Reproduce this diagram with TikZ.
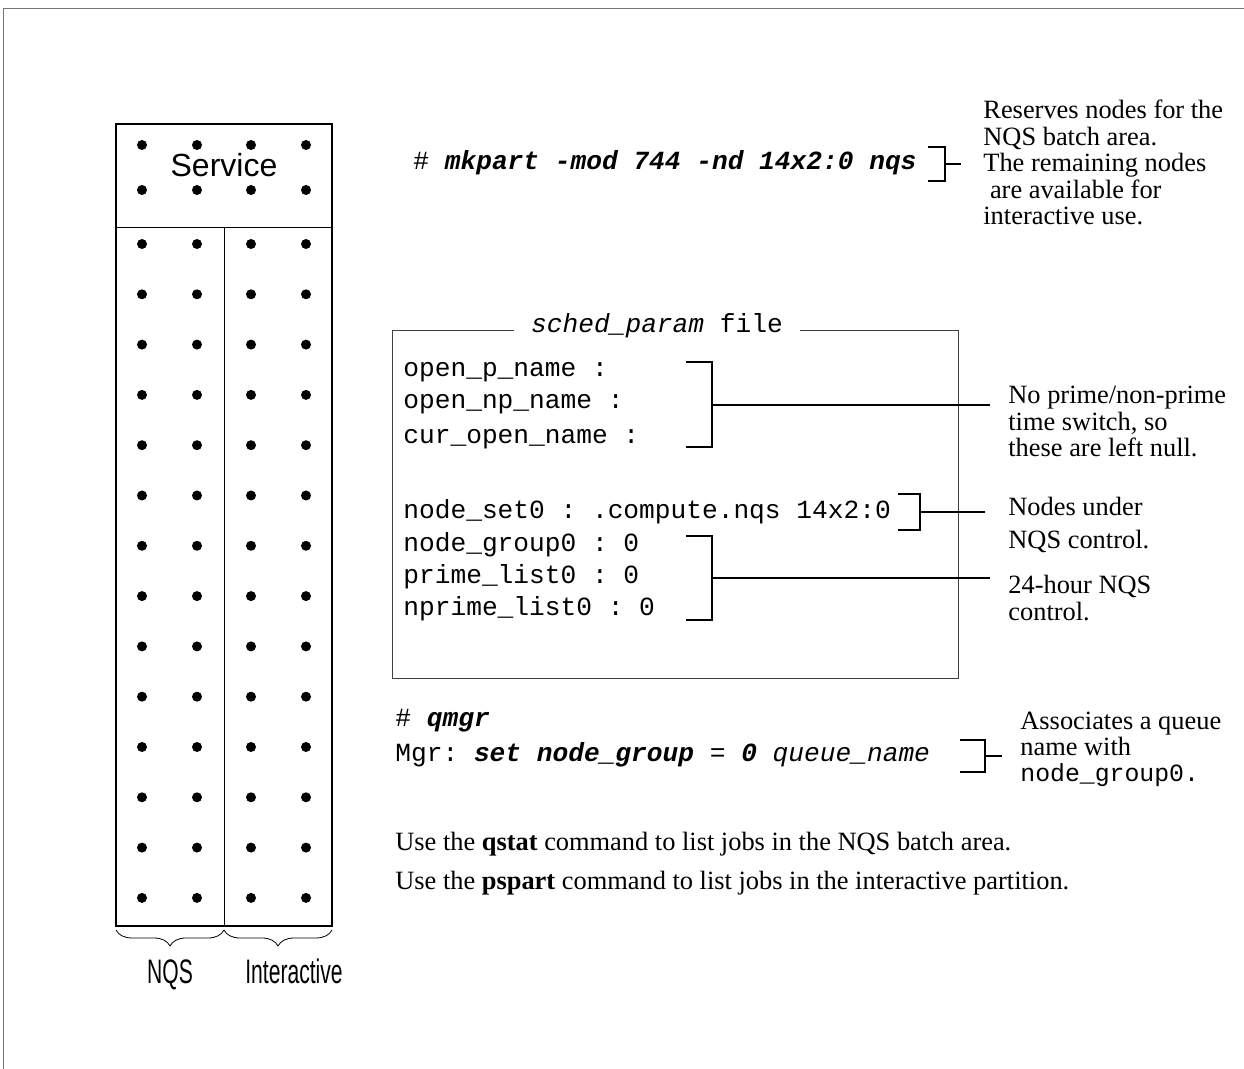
\documentclass[tikz,border=0pt]{standalone}
\usepackage{fontspec}
\setmainfont{Liberation Serif}
\setsansfont{Liberation Sans}
\setmonofont{Liberation Mono}
\usepackage{graphicx}
\usetikzlibrary{decorations.pathreplacing}
\newcommand\stk[1]{\vtop{\halign{##\hfil\cr#1\crcr}}}
\newcommand\tmfont{\fontsize{13.2}{13.25}\selectfont\rmfamily}
\newcommand\codefont{\fontsize{13.1}{15}\selectfont\ttfamily}
\newcommand\bi[1]{\textbf{\textit{#1}}}
\begin{document}
\begin{tikzpicture}[x=0.5pt,y=-0.5pt,
  txt/.style={anchor=base west, inner sep=0pt, font=\tmfont},
  code/.style={anchor=base west, inner sep=0pt, font=\codefont},
  brk/.style={line width=0.9pt},
  lead/.style={line width=0.7pt},
  dot/.style={fill=black},
  lab/.style={font=\sffamily\fontsize{17}{19}\selectfont, anchor=base, inner sep=0pt}]
\useasboundingbox (0,0) rectangle (1244,1069);
% page frame
\draw[line width=0.4pt, black!55] (3,1069) -- (3,8) -- (1244,8);

% left panel
\draw[line width=1.3pt] (116,124) rectangle (332,926);
\draw[line width=0.5pt] (116,228) -- (332,228);
\draw[line width=0.4pt] (224,228) -- (224,926);
\foreach \x in {142,197,251,306}{
  \foreach \y in {145,190}{\fill[dot] (\x,\y) circle (2.5pt);}
  \foreach \k in {0,...,13}{\fill[dot] (\x,{244+50.3*\k}) circle (2.5pt);}
}
\node[font=\sffamily\fontsize{16}{18}\selectfont, anchor=base, inner sep=0pt] (service) at (224,177) {Service};
\draw[decorate, decoration={brace, mirror, amplitude=8pt}, line width=0.4pt] (116,930) -- (224,930);
\draw[decorate, decoration={brace, mirror, amplitude=8pt}, line width=0.4pt] (224,930) -- (332,930);
\node[lab] (nqs) at (170,983) {\scalebox{0.62}[1]{NQS}};
\node[lab] (inter) at (294,983) {\scalebox{0.62}[1]{Interactive}};

% mkpart
\node[code] (mk) at (413,170) {\#\ \bi{mkpart -mod 744 -nd 14x2:0 nqs}};
\coordinate (mkA) at (928,147); \coordinate (mkB) at (928,181);
\coordinate (mkM) at (945,164); \coordinate (mkT) at (961,164);
\draw[brk] (mkA) -- (945,147) -- (945,181) -- (mkB);
\draw[lead] (mkM) -- (mkT);
\node[txt] (res) at (983,119) {\stk{Reserves nodes for the\cr NQS batch area.\cr The remaining nodes\cr\ are available for\cr interactive use.}};

% sched_param box
\draw[line width=0.5pt, black!75] (392,331) rectangle (958,679);
\node[fill=white, inner xsep=8.5pt, inner ysep=2pt, anchor=base, font=\codefont] (title) at (657,333) {\textit{sched\_param} file};
\node[code] (l1) at (403,377) {open\_p\_name :};
\node[code] (l2) at (403,409) {open\_np\_name :};
\node[code] (l3) at (403,444) {cur\_open\_name :};
\node[code] (l4) at (403,519) {node\_set0 : .compute.nqs 14x2:0};
\node[code] (l5) at (403,552) {node\_group0 : 0};
\node[code] (l6) at (403,584) {prime\_list0 : 0};
\node[code] (l7) at (403,616) {nprime\_list0 : 0};

\coordinate (bAm) at (712,405); \coordinate (bAe) at (990,405);
\draw[brk] (686,362) -- (712,362) -- (712,447) -- (686,447);
\draw[lead] (bAm) -- (bAe);
\coordinate (bNm) at (920,512); \coordinate (bNe) at (985,512);
\draw[brk] (898,494) -- (920,494) -- (920,530) -- (898,530);
\draw[lead] (bNm) -- (bNe);
\coordinate (bBm) at (712,578); \coordinate (bBe) at (990,578);
\draw[brk] (686,536) -- (712,536) -- (712,620) -- (686,620);
\draw[lead] (bBm) -- (bBe);

\node[txt] (null) at (1008,404) {\stk{No prime/non-prime\cr time switch, so\cr these are left null.}};
\node[txt, font=\fontsize{13.2}{16.5}\selectfont] (under) at (1008,516) {\stk{Nodes under\cr NQS control.}};
\node[txt, font=\fontsize{13.2}{13.5}\selectfont] (h24) at (1008,594) {\stk{24-hour NQS\cr control.}};

% qmgr
\node[code] (q1) at (395,727) {\#\ \bi{qmgr}};
\node[code] (q2) at (395,762) {Mgr: \bi{set node\_group} = \bi{0} \textit{queue\_name}};
\coordinate (qm) at (985,756); \coordinate (qe) at (1002,756);
\draw[brk] (960,740) -- (985,740) -- (985,772) -- (960,772);
\draw[lead] (qm) -- (qe);
\node[txt, font=\fontsize{13.2}{13}\selectfont] (assoc) at (1020,730) {\stk{Associates a queue\cr name with\cr {\ttfamily\fontsize{12.4}{13}\selectfont node\_group0.}}};

% notes
\node[txt] (u1) at (395,850) {Use the \textbf{qstat} command to list jobs in the NQS batch area.};
\node[txt] (u2) at (395,890) {Use the \textbf{pspart} command to list jobs in the interactive partition.};
\end{tikzpicture}
\end{document}
